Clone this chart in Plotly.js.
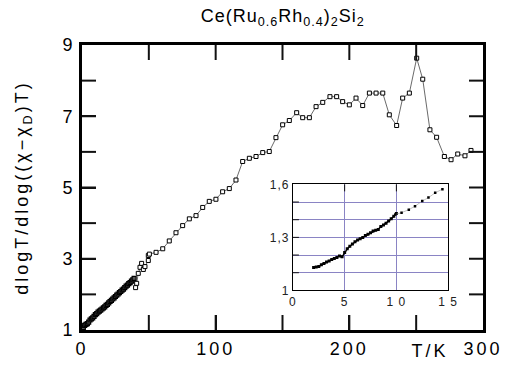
<!DOCTYPE html>
<html>
<head>
<meta charset="utf-8">
<script src="https://cdn.plot.ly/plotly-3.0.1.min.js"></script>
<style>
html,body{margin:0;padding:0;background:#fff;}
#chart{width:510px;height:372px;}
#chart g.xtick text, #chart g.ytick text{letter-spacing:3px;}
#chart g.x2tick text, #chart g.y2tick text{letter-spacing:1px;}
#chart .annotation-text{letter-spacing:3px;}
#chart .gtitle{letter-spacing:1px;}
</style>
</head>
<body>
<div id="chart"></div>
<script>
// Main plot: dense low-temperature data (T/K, dlogT/dlog((chi-chiD)T))
var denseT = [1,2,3,4,5,6,7,8,9,10,11,12,13,14,15,16,17,18,19,20,21,22,23,24,25,26,27,28,29,30,31,32,33,34,35,36,37,38,39];
var denseY = [1.07,1.13,1.16,1.18,1.22,1.28,1.31,1.34,1.38,1.43,1.46,1.50,1.53,1.56,1.59,1.62,1.65,1.69,1.72,1.76,1.80,1.83,1.87,1.90,1.94,1.98,2.01,2.05,2.08,2.12,2.15,2.19,2.23,2.26,2.30,2.33,2.37,2.41,2.45];

// Main plot: sparse data (open squares)
var sparseT = [40.1,40.9,42.1,43.4,44.6,45.9,47.1,49.6,49.6,50.4,55.4,60.4,65.3,70.3,75.3,80.3,85.3,90.3,95.2,100.2,105.2,110.2,115.2,120.2,125.2,130.2,135.2,140.1,145.1,150.1,155.1,160.6,165.1,170.1,175.1,180.1,185.5,190.5,195,200,205,210,215,220,225,229.9,235.4,239.9,244.9,250.4,254.9,260.3,265.3,271.1,276.1,281.1,286.5,291];
var sparseY = [2.19,2.31,2.59,2.76,2.87,2.70,2.78,2.95,3.09,3.13,3.18,3.28,3.50,3.73,3.93,4.12,4.21,4.44,4.61,4.67,4.88,4.97,5.21,5.73,5.82,5.87,5.98,6.01,6.40,6.76,6.88,7.10,6.96,6.96,7.27,7.39,7.55,7.55,7.41,7.32,7.51,7.30,7.65,7.65,7.65,7.04,6.74,7.51,7.65,8.63,8.04,6.62,6.41,5.87,5.78,5.94,5.89,6.04];

// Inset: dense series up to 10 K
var insetAT = [2.0,2.25,2.5,2.75,3.0,3.25,3.5,3.75,4.0,4.25,4.5,4.75,5.0,5.25,5.5,5.75,6.0,6.25,6.5,6.75,7.0,7.25,7.5,7.75,8.0,8.25,8.5,8.75,9.0,9.25,9.5,9.75,10.0];
var insetAY = [1.130,1.132,1.135,1.145,1.152,1.160,1.167,1.175,1.180,1.186,1.195,1.190,1.215,1.235,1.250,1.262,1.275,1.285,1.292,1.300,1.310,1.318,1.326,1.336,1.340,1.345,1.362,1.370,1.380,1.392,1.405,1.420,1.435];
// Inset: sparse series above 10 K
var insetBT = [9.9,10.5,11.2,11.8,12.5,13.1,13.75,14.45];
var insetBY = [1.43,1.44,1.457,1.476,1.506,1.525,1.552,1.573];

// Tick values and labels
var mainXMarks = [50,100,150,200,250];
var mainYMarks = [2,3,4,5,6,7,8];
var insetXTicks = [0,5,10,15];
var insetXText = ['0','5','1 0','1 5'];
var insetXMarks = [5,10];
var insetYTicks = [1,1.3,1.6];
var insetYText = ['1','1,3','1,6'];
var insetYMarks = [1.1,1.2,1.3,1.4,1.5];

var FONT = 'Liberation Sans, Arial, sans-serif';
var TICK = '#111';

// plot-area geometry (px) used to size the tick marks
var PW = 401, PH = 285;
var insetXDom = [0.526, 0.913], insetYDom = [0.139, 0.511];

var traces = [
  {x: denseT, y: denseY, type: 'scatter', mode: 'lines+markers', xaxis: 'x', yaxis: 'y',
   line: {color: '#555', width: 1},
   marker: {symbol: 'square', size: 4, color: '#555', line: {width: 1.2, color: '#000'}}},
  {x: sparseT, y: sparseY, type: 'scatter', mode: 'lines+markers', xaxis: 'x', yaxis: 'y',
   line: {color: '#444', width: 0.8},
   marker: {symbol: 'square', size: 4, color: '#fff', line: {width: 1, color: '#000'}}},
  {x: insetAT, y: insetAY, type: 'scatter', mode: 'lines+markers', xaxis: 'x2', yaxis: 'y2',
   line: {color: '#000', width: 1.5},
   marker: {symbol: 'square', size: 3, color: '#000'}},
  {x: insetBT, y: insetBY, type: 'scatter', mode: 'lines+markers', xaxis: 'x2', yaxis: 'y2',
   line: {color: '#999', width: 0.6},
   marker: {symbol: 'square', size: 2.5, color: '#000'}}
];

// Tick marks drawn as shapes (inside, all four sides of the main frame; left + top of the inset)
var shapes = [];
mainXMarks.forEach(function (v) {
  shapes.push({type: 'line', layer: 'above', xref: 'x', yref: 'paper', x0: v, x1: v, y0: 0, y1: 15 / PH, line: {color: TICK, width: 2}});
  shapes.push({type: 'line', layer: 'above', xref: 'x', yref: 'paper', x0: v, x1: v, y0: 1, y1: 1 - 15 / PH, line: {color: TICK, width: 2}});
});
mainYMarks.forEach(function (v) {
  shapes.push({type: 'line', layer: 'above', xref: 'paper', yref: 'y', x0: 0, x1: 14 / PW, y0: v, y1: v, line: {color: TICK, width: 2}});
  shapes.push({type: 'line', layer: 'above', xref: 'paper', yref: 'y', x0: 1, x1: 1 - 14 / PW, y0: v, y1: v, line: {color: TICK, width: 2}});
});
insetYMarks.forEach(function (v) {
  shapes.push({type: 'line', layer: 'above', xref: 'paper', yref: 'y2', x0: insetXDom[0], x1: insetXDom[0] + 6 / PW, y0: v, y1: v, line: {color: TICK, width: 1}});
});
insetXMarks.forEach(function (v) {
  shapes.push({type: 'line', layer: 'above', xref: 'x2', yref: 'paper', x0: v, x1: v, y0: insetYDom[1], y1: insetYDom[1] - 7 / PH, line: {color: TICK, width: 1}});
});

var layout = {
  width: 510, height: 372,
  margin: {l: 82, r: 27, t: 45, b: 42},
  paper_bgcolor: '#fff', plot_bgcolor: '#fff',
  showlegend: false,
  font: {family: FONT, color: '#000'},
  title: {text: 'Ce(Ru<sub>0.6</sub>Rh<sub>0.4</sub>)<sub>2</sub>Si<sub>2</sub>',
          font: {family: FONT, size: 18, color: '#000'},
          x: 0.5545, xref: 'container', xanchor: 'center', y: 0.957, yref: 'container', yanchor: 'middle'},
  xaxis: {range: [0, 300], domain: [0, 1], tickmode: 'linear', tick0: 0, dtick: 100,
          ticks: 'inside', ticklen: 15, tickwidth: 2, tickcolor: TICK,
          showline: true, linewidth: 3, linecolor: '#000', mirror: true,
          showgrid: false, zeroline: false,
          tickfont: {family: FONT, size: 18, color: '#000'}},
  yaxis: {range: [1, 9], domain: [0, 1], tickmode: 'linear', tick0: 1, dtick: 2,
          ticks: 'inside', ticklen: 14, tickwidth: 2, tickcolor: TICK,
          showline: true, linewidth: 3, linecolor: '#000', mirror: true,
          showgrid: false, zeroline: false,
          tickfont: {family: FONT, size: 18, color: '#000'}},
  xaxis2: {range: [0, 15], domain: insetXDom, anchor: 'y2',
           tickvals: insetXTicks, ticktext: insetXText, ticks: '',
           showline: true, linewidth: 1, linecolor: '#000', mirror: true,
           showgrid: true, gridcolor: '#8a84c4', gridwidth: 1, zeroline: false,
           tickfont: {family: FONT, size: 12, color: '#222'}},
  yaxis2: {range: [1, 1.6], domain: insetYDom, anchor: 'x2',
           tickvals: insetYTicks, ticktext: insetYText, ticks: '',
           showline: true, linewidth: 1, linecolor: '#000', mirror: true,
           showgrid: true, gridcolor: '#8a84c4', gridwidth: 1, zeroline: false,
           minor: {tickvals: insetYMarks, showgrid: true, gridcolor: '#8a84c4', gridwidth: 1},
           tickfont: {family: FONT, size: 12, color: '#222'}},
  shapes: shapes,
  annotations: [
    {text: 'dlogT/dlog((χ−χ<sub>D</sub>)T)', xref: 'paper', yref: 'paper',
     x: -0.145, y: 0.5, xanchor: 'center', yanchor: 'middle', textangle: -90,
     showarrow: false, font: {family: FONT, size: 18, color: '#000'}},
    {text: 'T/K', xref: 'paper', yref: 'paper', x: 0.867, y: -0.075,
     xanchor: 'center', yanchor: 'middle', showarrow: false,
     font: {family: FONT, size: 18, color: '#000'}}
  ]
};

Plotly.newPlot('chart', traces, layout, {displayModeBar: false});
</script>
</body>
</html>
